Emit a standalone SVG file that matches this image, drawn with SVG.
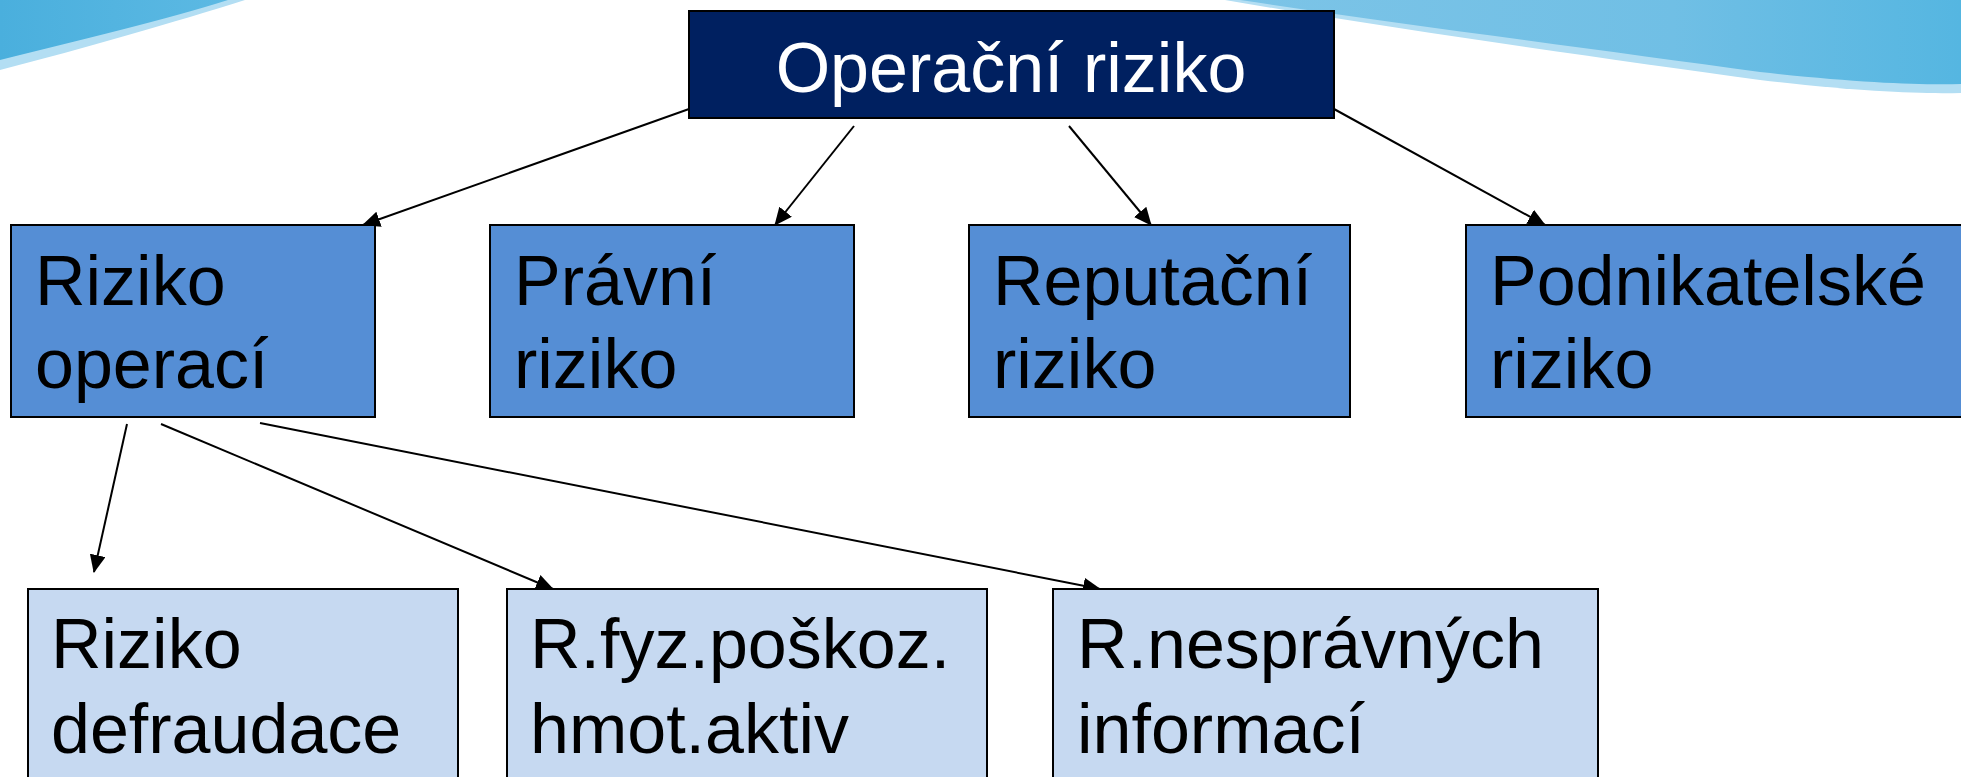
<svg xmlns="http://www.w3.org/2000/svg" width="1961" height="777" viewBox="0 0 1961 777">
  <defs>
    <linearGradient id="gTR" x1="0" y1="0" x2="1" y2="0">
      <stop offset="0" stop-color="#7cc4e7"/>
      <stop offset="0.6" stop-color="#70bfe5"/>
      <stop offset="1" stop-color="#55b6e1"/>
    </linearGradient>
    <linearGradient id="gTL" x1="0" y1="0" x2="1" y2="0">
      <stop offset="0" stop-color="#4aafdd"/>
      <stop offset="1" stop-color="#5cb9e3"/>
    </linearGradient>
    <marker id="arr" markerUnits="userSpaceOnUse" markerWidth="18" markerHeight="16" refX="17" refY="8" orient="auto">
      <path d="M0,0 L18,8 L0,16 Z" fill="#000"/>
    </marker>
    <style>
      .lvl0 { fill: #002060; stroke: #000; stroke-width: 2; }
      .lvl1 { fill: #558ed5; stroke: #000; stroke-width: 2; }
      .lvl2 { fill: #c6d9f1; stroke: #000; stroke-width: 2; }
      .t { font-family: "Liberation Sans", Arial, sans-serif; font-size: 70px; fill: #000; }
      .tw { font-family: "Liberation Sans", Arial, sans-serif; font-size: 70px; fill: #fff; text-anchor: middle; }
      .edge { stroke: #000; stroke-width: 2; fill: none; marker-end: url(#arr); }
    </style>
  </defs>

  <rect x="0" y="0" width="1961" height="777" fill="#fff"/>

  <g id="background">
    <path d="M0,0 L245,0 C175,22 85,48 0,70 Z" fill="#b3def3"/>
    <path d="M0,0 L228,0 C165,20 80,40 0,60 Z" fill="url(#gTL)"/>
    <path d="M1225,0 C1400,30 1600,58 1760,80 C1860,92 1920,94 1961,93 L1961,0 Z" fill="#b3def3"/>
    <path d="M1240,0 C1400,24 1600,50 1760,72 C1860,83 1920,85 1961,84 L1961,0 Z" fill="url(#gTR)"/>
  </g>

  <g id="connectors">
    <line class="edge" x1="689" y1="109" x2="363" y2="225"/>
    <line class="edge" x1="854" y1="126" x2="775" y2="225"/>
    <line class="edge" x1="1069" y1="126" x2="1151" y2="225"/>
    <line class="edge" x1="1334" y1="109" x2="1545" y2="225"/>
    <line class="edge" x1="127" y1="424" x2="94" y2="572"/>
    <line class="edge" x1="161" y1="424" x2="553" y2="589"/>
    <line class="edge" x1="260" y1="423" x2="1100" y2="589"/>
  </g>

  <g id="n-operacni-riziko">
    <rect class="lvl0" x="689" y="11" width="645" height="107"/>
    <text class="tw" x="1011" y="92">Operační riziko</text>
  </g>

  <g id="n-riziko-operaci">
    <rect class="lvl1" x="11" y="225" width="364" height="192"/>
    <text class="t" x="35" y="305">Riziko</text>
    <text class="t" x="35" y="388">operací</text>
  </g>

  <g id="n-pravni-riziko">
    <rect class="lvl1" x="490" y="225" width="364" height="192"/>
    <text class="t" x="514" y="305">Právní</text>
    <text class="t" x="514" y="388">riziko</text>
  </g>

  <g id="n-reputacni-riziko">
    <rect class="lvl1" x="969" y="225" width="381" height="192"/>
    <text class="t" x="993" y="305">Reputační</text>
    <text class="t" x="993" y="388">riziko</text>
  </g>

  <g id="n-podnikatelske-riziko">
    <rect class="lvl1" x="1466" y="225" width="520" height="192"/>
    <text class="t" x="1490" y="305">Podnikatelské</text>
    <text class="t" x="1490" y="388">riziko</text>
  </g>

  <g id="n-riziko-defraudace">
    <rect class="lvl2" x="28" y="589" width="430" height="220"/>
    <text class="t" x="51" y="668">Riziko</text>
    <text class="t" x="51" y="753">defraudace</text>
  </g>

  <g id="n-fyz-poskoz">
    <rect class="lvl2" x="507" y="589" width="480" height="220"/>
    <text class="t" x="530" y="668">R.fyz.poškoz.</text>
    <text class="t" x="530" y="753">hmot.aktiv</text>
  </g>

  <g id="n-nespravnych-informaci">
    <rect class="lvl2" x="1053" y="589" width="545" height="220"/>
    <text class="t" x="1077" y="668">R.nesprávných</text>
    <text class="t" x="1077" y="753">informací</text>
  </g>
</svg>
